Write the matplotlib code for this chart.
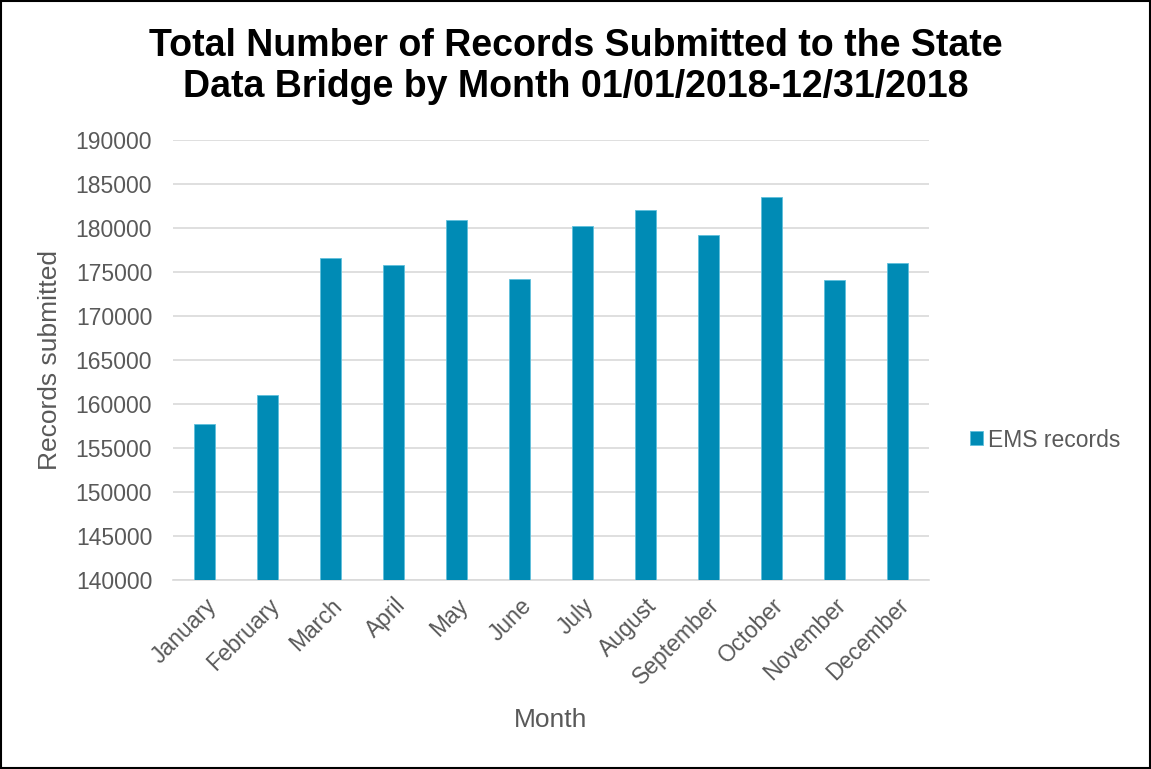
import numpy as np
import matplotlib.pyplot as plt
from matplotlib.patches import Rectangle

months = ["January", "February", "March", "April", "May", "June", "July",
          "August", "September", "October", "November", "December"]
ems_records = [157750, 161050, 176590, 175830, 180870, 174160,
               180190, 182000, 179240, 183480, 174050, 176020]
y_ticks = np.arange(140000, 190001, 5000)

plt.rcParams['font.family'] = ['Liberation Sans', 'DejaVu Sans']
grey = "#595959"
bar_color = "#008bb5"

fig = plt.figure(figsize=(11.51, 7.69), dpi=100)
ax = fig.add_axes([0.1503, 0.2458, 0.6568, 0.5722])

x = np.arange(len(months))
ax.bar(x, ems_records, width=0.32, color=bar_color, edgecolor="#5fc0dc",
       linewidth=0.6, label="EMS records", zorder=3)

ax.set_xlim(-0.5, len(months) - 0.5)
ax.set_ylim(140000, 190000)
ax.set_yticks(y_ticks)
ax.set_yticklabels([str(v) for v in y_ticks], fontsize=16.5, color=grey)
ax.set_xticks(x)
ax.set_xticklabels(months, rotation=45, ha="right", rotation_mode="anchor",
                   fontsize=16.5, color=grey)
ax.tick_params(axis="y", length=0, pad=15)
ax.tick_params(axis="x", length=0, pad=10)
ax.grid(axis="y", color="#d9d9d9", linewidth=1.2, zorder=0)
for side in ["top", "right", "left"]:
    ax.spines[side].set_visible(False)
ax.spines["bottom"].set_color("#d9d9d9")
ax.spines["bottom"].set_linewidth(1.2)

ax.set_ylabel("Records submitted", fontsize=19, color=grey, va="center")
ax.yaxis.set_label_coords(-0.163, 0.5)
fig.text(0.4787, 0.0637, "Month", fontsize=19, color=grey, ha="center", va="center")

fig.suptitle("Total Number of Records Submitted to the State\nData Bridge by Month 01/01/2018-12/31/2018",
             fontsize=27, fontweight="bold", x=0.5, y=0.964, va="top", linespacing=1.2)

fig.legend(loc="center left", bbox_to_anchor=(0.8428, 0.4278), frameon=False,
           fontsize=16.5, labelcolor=grey, handlelength=0.57, handleheight=0.57,
           handletextpad=0.22, borderpad=0, borderaxespad=0)

# outer border like the exported chart frame
fig.patches.append(Rectangle((0.0008, 0.0012), 0.9984, 0.9976, transform=fig.transFigure,
                             fill=False, edgecolor="black", linewidth=1.5))

plt.savefig("out.png", dpi=100)
